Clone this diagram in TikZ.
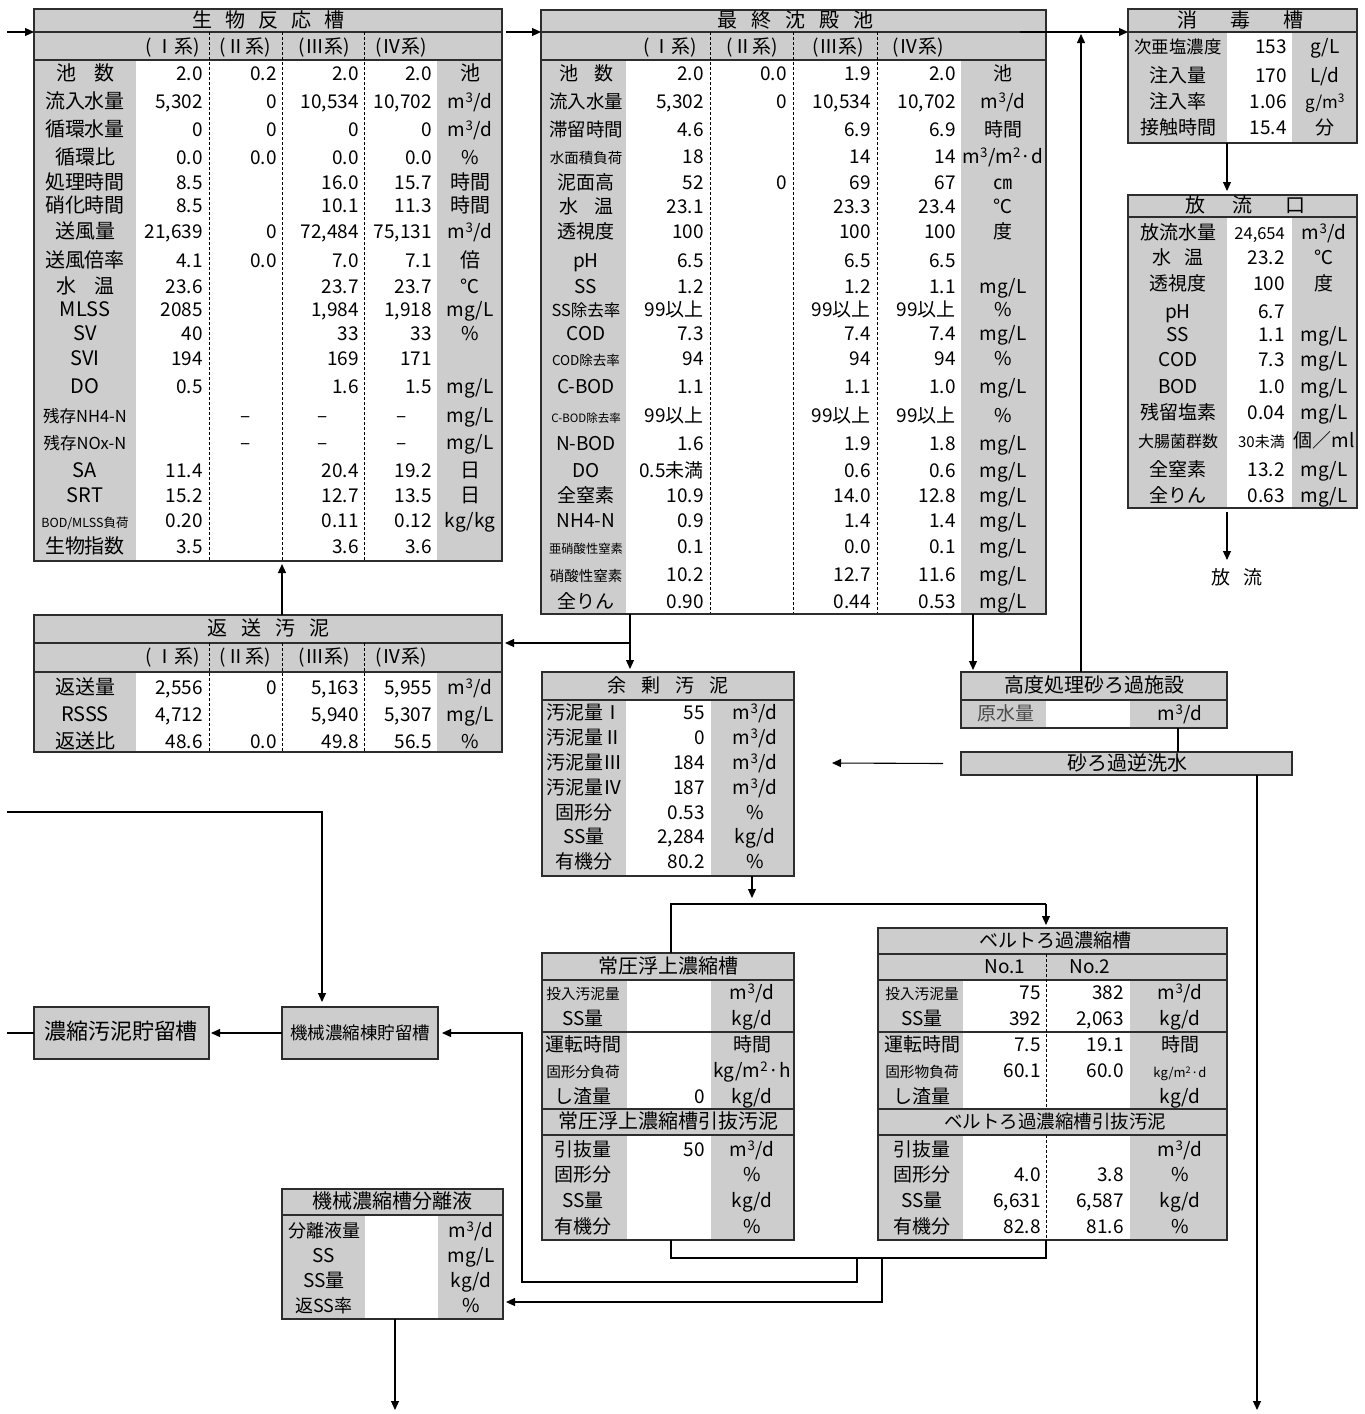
\documentclass[tikz,border=0pt]{standalone}
\usepackage{fontspec}
\setmainfont{Noto Sans CJK JP}
\usetikzlibrary{arrows.meta,calc}
\definecolor{cg}{RGB}{205,205,205}
\definecolor{ln}{RGB}{45,45,45}
\newcommand\fsz[1]{\fontsize{#1}{#1}\selectfont}
\newcommand\mcu{m\textsuperscript{3}/d}
\newcounter{tc}
\newcommand\tcell[3][]{\stepcounter{tc}\node[txt,#1] (t\arabic{tc}) at (#2) {#3};}
\newcommand\rowF[7]{\tcell{\colL,#1}{#2}\tcell[anchor=mid east]{\colA,#1}{#3}\tcell[anchor=mid east]{\colB,#1}{#4}\tcell[anchor=mid east]{\colC,#1}{#5}\tcell[anchor=mid east]{\colD,#1}{#6}\tcell{\colU,#1}{#7}}
\newcommand\rowT[4]{\tcell{\colL,#1}{#2}\tcell[anchor=mid east]{\colA,#1}{#3}\tcell{\colU,#1}{#4}}
\newcommand\rowB[5]{\tcell{\colL,#1}{#2}\tcell[anchor=mid east]{\colA,#1}{#3}\tcell[anchor=mid east]{\colB,#1}{#4}\tcell{\colU,#1}{#5}}
\begin{document}
\begin{tikzpicture}[x=1pt,y=-1pt,
 txt/.style={inner sep=0pt,anchor=mid,yshift=-4pt,font=\fsz{19}},
 frame/.style={draw=ln,line width=1.6pt,inner sep=0pt,outer sep=0pt,anchor=north west},
 dsh/.style={draw=black,line width=0.9pt,dash pattern=on 3pt off 2pt},
 sol/.style={draw=ln,line width=1.4pt},
 conn/.style={draw=black,line width=1.1pt},
 arr/.style={conn,-{Triangle[length=9pt,width=8pt]}}]
\useasboundingbox (0,0) rectangle (1365,1414);
\fill[white] (0,0) rectangle (1365,1414);
% ---------- fills and inner lines ----------
% bio
\fill[cg] (34,9) rectangle (502,561);
\fill[white] (136,60) rectangle (437,561);
\draw[sol] (34,32) -- (502,32) (34,60) -- (502,60);
\foreach \x in {209,282,364} \draw[dsh] (\x,32) -- (\x,561);
% final
\fill[cg] (541,10) rectangle (1046,614);
\fill[white] (626,60) rectangle (961,614);
\draw[sol] (541,32) -- (1046,32) (541,60) -- (1046,60);
\foreach \x in {710,793,877} \draw[dsh] (\x,32) -- (\x,614);
% disinfection
\fill[cg] (1128,9) rectangle (1357,143);
\fill[white] (1227,32) rectangle (1292,143);
\draw[sol] (1128,32) -- (1357,32);
% outfall
\fill[cg] (1128,195) rectangle (1357,508);
\fill[white] (1227,217) rectangle (1292,508);
\draw[sol] (1128,217) -- (1357,217);
% return sludge
\fill[cg] (34,615) rectangle (502,752);
\fill[white] (136,672) rectangle (437,752);
\draw[sol] (34,643) -- (502,643) (34,672) -- (502,672);
\foreach \x in {209,282,364} \draw[dsh] (\x,643) -- (\x,752);
% excess sludge
\fill[cg] (542,672) rectangle (794,876);
\fill[white] (626,700) rectangle (711,876);
\draw[sol] (542,700) -- (794,700);
% advanced
\fill[cg] (961,672) rectangle (1227,728);
\fill[white] (1046,700) rectangle (1130,728);
\draw[sol] (961,700) -- (1227,700);
% backwash
\fill[cg] (961,752) rectangle (1292,775);
% joatsu
\fill[cg] (542,953) rectangle (794,1240);
\fill[white] (627,980) rectangle (711,1109);
\fill[white] (627,1135) rectangle (711,1240);
\draw[sol] (542,980) -- (794,980) (542,1032) -- (794,1032) (542,1109) -- (794,1109) (542,1135) -- (794,1135);
% belt
\fill[cg] (878,928) rectangle (1227,1240);
\fill[white] (963,980) rectangle (1130,1109);
\fill[white] (963,1135) rectangle (1130,1240);
\draw[sol] (878,954) -- (1227,954) (878,980) -- (1227,980) (878,1032) -- (1227,1032) (878,1109) -- (1227,1109) (878,1135) -- (1227,1135);
\draw[dsh] (1046,954) -- (1046,1109) (1046,1135) -- (1046,1240);
% storage boxes
\fill[cg] (282,1007) rectangle (438,1059);
\fill[cg] (34,1007) rectangle (209,1059);
% separation liquid
\fill[cg] (282,1189) rectangle (503,1319);
\fill[white] (365,1215) rectangle (438,1319);
\draw[sol] (282,1215) -- (503,1215);
% ---------- frames ----------
\node[frame,minimum width=468pt,minimum height=552pt] (bio) at (34,9) {};
\node[frame,minimum width=505pt,minimum height=604pt] (fin) at (541,10) {};
\node[frame,minimum width=229pt,minimum height=134pt] (dis) at (1128,9) {};
\node[frame,minimum width=229pt,minimum height=313pt] (out) at (1128,195) {};
\node[frame,minimum width=468pt,minimum height=137pt] (ret) at (34,615) {};
\node[frame,minimum width=252pt,minimum height=204pt] (exc) at (542,672) {};
\node[frame,minimum width=266pt,minimum height=56pt] (adv) at (961,672) {};
\node[frame,minimum width=331pt,minimum height=23pt] (bw) at (961,752) {};
\node[frame,minimum width=252pt,minimum height=287pt] (joa) at (542,953) {};
\node[frame,minimum width=349pt,minimum height=312pt] (belt) at (878,928) {};
\node[frame,minimum width=156pt,minimum height=52pt] (kik) at (282,1007) {};
\node[frame,minimum width=175pt,minimum height=52pt] (nou) at (34,1007) {};
\node[frame,minimum width=221pt,minimum height=130pt] (bun) at (282,1189) {};
% ---------- texts: bio ----------
\tcell{268,21}{\fsz{20}生\hspace{13pt}物\hspace{13pt}反\hspace{13pt}応\hspace{13pt}槽}
\tcell{173,47}{(\,Ⅰ系)}\tcell{245,47}{(Ⅱ系)}\tcell{324,47}{(Ⅲ系)}\tcell{401,47}{(Ⅳ系)}
\def\colL{85}\def\colA{203}\def\colB{277}\def\colC{359}\def\colD{432}\def\colU{470}
\rowF{74}{\fsz{20}池\hspace{18pt}数}{2.0}{0.2}{2.0}{2.0}{\fsz{20}池}
\rowF{102}{\fsz{20}流入水量}{5,302}{0}{10,534}{10,702}{\mcu}
\rowF{130}{\fsz{20}循環水量}{0}{0}{0}{0}{\mcu}
\rowF{158}{\fsz{20}循環比}{0.0}{0.0}{0.0}{0.0}{\%}
\rowF{183}{\fsz{20}処理時間}{8.5}{}{16.0}{15.7}{\fsz{20}時間}
\rowF{206}{\fsz{20}硝化時間}{8.5}{}{10.1}{11.3}{\fsz{20}時間}
\rowF{232}{\fsz{20}送風量}{21,639}{0}{72,484}{75,131}{\mcu}
\rowF{261}{\fsz{20}送風倍率}{4.1}{0.0}{7.0}{7.1}{\fsz{20}倍}
\rowF{287}{\fsz{20}水\hspace{18pt}温}{23.6}{}{23.7}{23.7}{℃}
\rowF{310}{\fsz{20}MLSS}{2085}{}{1,984}{1,918}{mg/L}
\rowF{334}{\fsz{20}SV}{40}{}{33}{33}{\%}
\rowF{359}{\fsz{20}SVI}{194}{}{169}{171}{}
\rowF{387}{\fsz{20}DO}{0.5}{}{1.6}{1.5}{mg/L}
\tcell{\colL,416}{\fsz{16.5}残存NH4-N}\tcell{246,416}{–}\tcell{323,416}{–}\tcell{402,416}{–}\tcell{\colU,416}{mg/L}
\tcell{\colL,443}{\fsz{16.5}残存NOx-N}\tcell{246,443}{–}\tcell{323,443}{–}\tcell{402,443}{–}\tcell{\colU,443}{mg/L}
\rowF{471}{\fsz{20}SA}{11.4}{}{20.4}{19.2}{\fsz{20}日}
\rowF{496}{\fsz{20}SRT}{15.2}{}{12.7}{13.5}{\fsz{20}日}
\rowF{521}{\fsz{12.5}BOD/MLSS負荷}{0.20}{}{0.11}{0.12}{kg/kg}
\rowF{547}{\fsz{20}生物指数}{3.5}{}{3.6}{3.6}{}
% ---------- texts: final ----------
\tcell{795,21}{\fsz{20}最\hspace{14pt}終\hspace{14pt}沈\hspace{14pt}殿\hspace{14pt}池}
\tcell{670,47}{(\,Ⅰ系)}\tcell{752,47}{(Ⅱ系)}\tcell{838,47}{(Ⅲ系)}\tcell{918,47}{(Ⅳ系)}
\def\colL{586}\def\colA{704}\def\colB{787}\def\colC{871}\def\colD{956}\def\colU{1003}
\rowF{74}{池\hspace{16pt}数}{2.0}{0.0}{1.9}{2.0}{池}
\rowF{102}{\fsz{18.5}流入水量}{5,302}{0}{10,534}{10,702}{\mcu}
\rowF{130}{\fsz{18.5}滞留時間}{4.6}{}{6.9}{6.9}{時間}
\rowF{157}{\fsz{14.5}水面積負荷}{18}{}{14}{14}{m\textsuperscript{3}/m\textsuperscript{2}·d}
\rowF{183}{泥面高}{52}{0}{69}{67}{㎝}
\rowF{207}{水\hspace{16pt}温}{23.1}{}{23.3}{23.4}{℃}
\rowF{232}{透視度}{100}{}{100}{100}{度}
\rowF{261}{pH}{6.5}{}{6.5}{6.5}{}
\rowF{287}{SS}{1.2}{}{1.2}{1.1}{mg/L}
\rowF{310}{\fsz{16.5}SS除去率}{99以上}{}{99以上}{99以上}{\%}
\rowF{334}{COD}{7.3}{}{7.4}{7.4}{mg/L}
\rowF{359}{\fsz{13.5}COD除去率}{94}{}{94}{94}{\%}
\rowF{387}{C-BOD}{1.1}{}{1.1}{1.0}{mg/L}
\rowF{416}{\fsz{11.5}C-BOD除去率}{99以上}{}{99以上}{99以上}{\%}
\rowF{444}{N-BOD}{1.6}{}{1.9}{1.8}{mg/L}
\rowF{471}{DO}{0.5未満}{}{0.6}{0.6}{mg/L}
\rowF{496}{全窒素}{10.9}{}{14.0}{12.8}{mg/L}
\rowF{521}{NH4-N}{0.9}{}{1.4}{1.4}{mg/L}
\rowF{547}{\fsz{12.3}亜硝酸性窒素}{0.1}{}{0.0}{0.1}{mg/L}
\rowF{575}{\fsz{14.5}硝酸性窒素}{10.2}{}{12.7}{11.6}{mg/L}
\rowF{602}{全りん}{0.90}{}{0.44}{0.53}{mg/L}
% ---------- texts: disinfection ----------
\tcell{1187,21}{\fsz{20}消}\tcell{1240,21}{\fsz{20}毒}\tcell{1293,21}{\fsz{20}槽}
\def\colL{1178}\def\colA{1287}\def\colU{1325}
\rowT{47}{\fsz{17.4}次亜塩濃度}{153}{g/L}
\rowT{76}{注入量}{170}{L/d}
\rowT{102}{注入率}{1.06}{\fsz{17}g/m\textsuperscript{3}}
\rowT{128}{接触時間}{15.4}{分}
% ---------- texts: outfall ----------
\tcell{1195,206}{\fsz{20}放}\tcell{1242,206}{\fsz{20}流}\tcell{1295,206}{\fsz{20}口}
\def\colL{1178}\def\colA{1285}\def\colU{1324}
\rowT{233}{放流水量}{\fsz{16.5}24,654}{\mcu}
\rowT{258}{水\hspace{14pt}温}{23.2}{℃}
\rowT{284}{透視度}{100}{度}
\rowT{312}{pH}{6.7}{}
\rowT{335}{SS}{1.1}{mg/L}
\rowT{360}{COD}{7.3}{mg/L}
\rowT{387}{BOD}{1.0}{mg/L}
\rowT{413}{残留塩素}{0.04}{mg/L}
\rowT{441}{\fsz{16}大腸菌群数}{\fsz{15}30未満}{個／ml}
\rowT{470}{全窒素}{13.2}{mg/L}
\rowT{496}{全りん}{0.63}{mg/L}
\tcell{1237,578}{放\hspace{14pt}流}
% ---------- texts: return sludge ----------
\tcell{268,629}{\fsz{20}返\hspace{14pt}送\hspace{14pt}汚\hspace{14pt}泥}
\tcell{173,657}{(\,Ⅰ系)}\tcell{245,657}{(Ⅱ系)}\tcell{324,657}{(Ⅲ系)}\tcell{401,657}{(Ⅳ系)}
\def\colL{85}\def\colA{203}\def\colB{277}\def\colC{359}\def\colD{432}\def\colU{470}
\rowF{688}{\fsz{20}返送量}{2,556}{0}{5,163}{5,955}{\mcu}
\rowF{715}{\fsz{20}RSSS}{4,712}{}{5,940}{5,307}{mg/L}
\rowF{742}{\fsz{20}返送比}{48.6}{0.0}{49.8}{56.5}{\%}
% ---------- texts: excess sludge ----------
\tcell{668,686}{\fsz{19}余\hspace{15pt}剰\hspace{15pt}汚\hspace{15pt}泥}
\def\colL{584}\def\colA{705}\def\colU{755}
\rowT{713}{汚泥量Ⅰ}{55}{\mcu}
\rowT{738}{汚泥量Ⅱ}{0}{\mcu}
\rowT{763}{汚泥量Ⅲ}{184}{\mcu}
\rowT{788}{汚泥量Ⅳ}{187}{\mcu}
\rowT{813}{固形分}{0.53}{\%}
\rowT{837}{SS量}{2,284}{kg/d}
\rowT{862}{有機分}{80.2}{\%}
% ---------- texts: advanced / backwash ----------
\tcell{1094,686}{\fsz{20}高度処理砂ろ過施設}
\tcell[text=black!70]{1006,714}{原水量}
\tcell{1180,714}{\mcu}
\tcell{1127,764}{\fsz{20}砂ろ過逆洗水}
% ---------- texts: joatsu ----------
\tcell{668,967}{\fsz{20}常圧浮上濃縮槽}
\def\colL{583}\def\colA{705}\def\colU{752}
\rowT{993}{\fsz{14.7}投入汚泥量}{}{\mcu}
\rowT{1019}{SS量}{}{kg/d}
\rowT{1045}{運転時間}{}{時間}
\rowT{1071}{\fsz{14.7}固形分負荷}{}{kg/m\textsuperscript{2}·h}
\rowT{1097}{し渣量}{0}{kg/d}
\tcell{668,1122}{\fsz{20}常圧浮上濃縮槽引抜汚泥}
\rowT{1150}{引抜量}{50}{\mcu}
\rowT{1175}{固形分}{}{\%}
\rowT{1201}{SS量}{}{kg/d}
\rowT{1227}{有機分}{}{\%}
% ---------- texts: belt ----------
\tcell{1055,941}{ベルトろ過濃縮槽}
\tcell{1005,967}{No.1}\tcell{1090,967}{No.2}
\def\colL{922}\def\colA{1041}\def\colB{1124}\def\colU{1180}
\rowB{993}{\fsz{14.7}投入汚泥量}{75}{382}{\mcu}
\rowB{1019}{SS量}{392}{2,063}{kg/d}
\rowB{1045}{運転時間}{7.5}{19.1}{時間}
\rowB{1071}{\fsz{14.7}固形物負荷}{60.1}{60.0}{\fsz{13}kg/m\textsuperscript{2}·d}
\rowB{1097}{し渣量}{}{}{kg/d}
\tcell{1055,1122}{\fsz{18.5}ベルトろ過濃縮槽引抜汚泥}
\rowB{1150}{引抜量}{}{}{\mcu}
\rowB{1175}{固形分}{4.0}{3.8}{\%}
\rowB{1201}{SS量}{6,631}{6,587}{kg/d}
\rowB{1227}{有機分}{82.8}{81.6}{\%}
% ---------- texts: storage / separation ----------
\tcell{360,1033}{\fsz{17.5}機械濃縮棟貯留槽}
\tcell{121,1033}{\fsz{22}濃縮汚泥貯留槽}
\tcell{392,1202}{\fsz{20}機械濃縮槽分離液}
\def\colL{324}\def\colA{430}\def\colU{471}
\rowT{1231}{\fsz{18}分離液量}{}{\mcu}
\rowT{1256}{SS}{}{mg/L}
\rowT{1281}{SS量}{}{kg/d}
\rowT{1306}{\fsz{18}返SS率}{}{\%}
% ---------- connectors ----------
\coordinate (p0) at (7,32);
\draw[arr] (p0) -- (p0 -| bio.west);
\coordinate (p1) at (506,32);
\draw[arr] (p1) -- (p1 -| fin.west);
\coordinate (p2) at (1020,32);
\draw[arr] (p2) -- (p2 -| dis.west);
\coordinate (p3) at (1081,34);
\draw[arr] (p3 |- adv.north) -- (p3);
\coordinate (xa) at (1227,0);
\draw[arr] (dis.south -| xa) -- ($(out.north -| xa)+(0,-4)$);
\coordinate (q1) at (1227,560);
\draw[arr] ($(out.south -| xa)+(0,4)$) -- (q1);
\coordinate (xr) at (282,0);
\draw[arr] (ret.north -| xr) -- ($(bio.south -| xr)+(0,3)$);
\coordinate (xf) at (630,0);
\coordinate (j1) at (630,643);
\draw[conn] (fin.south -| xf) -- (j1);
\draw[arr] (j1) -- ($(j1 -| ret.east)+(3,0)$);
\draw[arr] (j1) -- ($(exc.north -| xf)+(0,-3)$);
\coordinate (xg) at (973,0);
\draw[arr] (fin.south -| xg) -- ($(adv.north -| xg)+(0,-2)$);
\coordinate (xh) at (1178,0);
\draw[conn] (adv.south -| xh) -- (bw.north -| xh);
\coordinate (q2) at (832,763);
\draw[arr] ($(bw.west)+(-18,0)$) -- (q2);
\coordinate (q3) at (1257,1410);
\draw[arr] (bw.south -| q3) -- (q3);
\coordinate (q4) at (752,898);
\draw[arr] (exc.south -| q4) -- (q4);
\coordinate (h1) at (671,904);
\coordinate (h2) at (1046,904);
\draw[conn] (joa.north -| h1) -- (h1) -- (h2);
\draw[arr] (h2) -- ($(belt.north -| h2)+(0,-3)$);
\coordinate (b1) at (671,1258);
\coordinate (b2) at (1046,1258);
\draw[conn] (joa.south -| b1) -- (b1) -- (b2) -- (belt.south -| b2);
\coordinate (b3) at (857,1258);
\coordinate (b4) at (857,1282);
\coordinate (b5) at (522,1282);
\coordinate (b6) at (522,1033);
\draw[arr] (b3) -- (b4) -- (b5) -- (b6) -- ($(b6 -| kik.east)+(4,0)$);
\coordinate (b7) at (882,1258);
\coordinate (b8) at (882,1302);
\draw[arr] (b7) -- (b8) -- ($(b8 -| bun.east)+(3,0)$);
\coordinate (q5) at (395,1410);
\draw[arr] (bun.south -| q5) -- (q5);
\coordinate (l1) at (7,812);
\coordinate (l2) at (322,812);
\draw[arr] (l1) -- (l2) -- ($(kik.north -| l2)+(0,-5)$);
\draw[arr] (kik.west) -- ($(nou.east)+(2,0)$);
\coordinate (l3) at (7,1033);
\draw[conn] (l3) -- (l3 -| nou.west);
\end{tikzpicture}
\end{document}
